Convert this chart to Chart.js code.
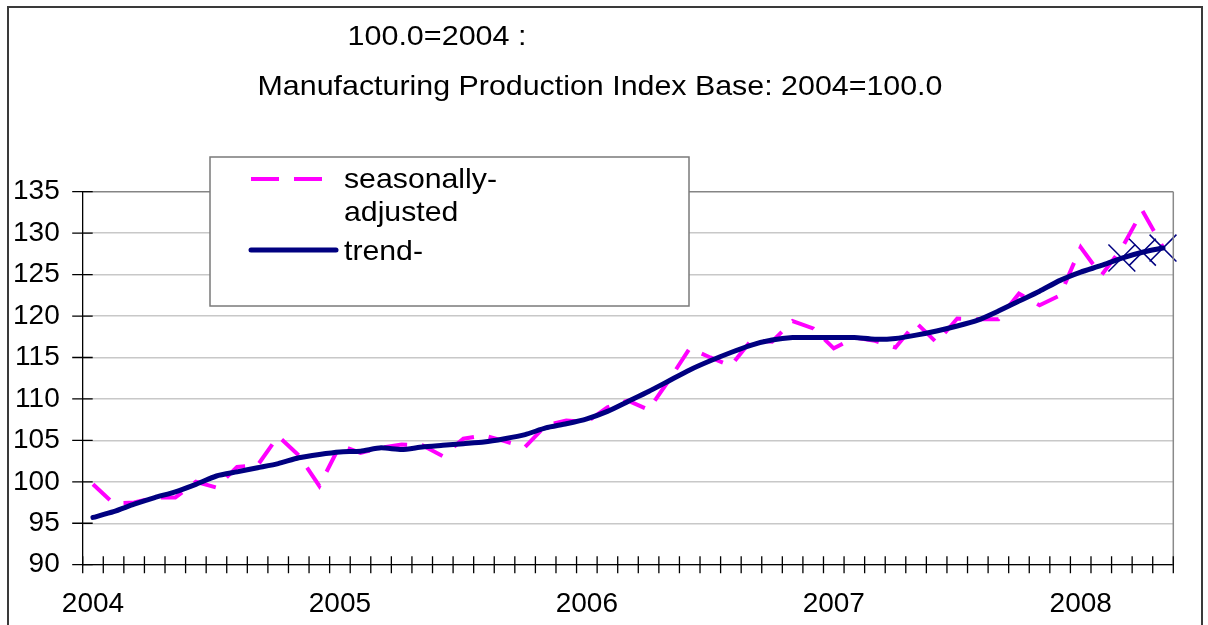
<!DOCTYPE html>
<html>
<head>
<meta charset="utf-8">
<script src="https://cdn.jsdelivr.net/npm/chart.js@4.4.1/dist/chart.umd.min.js"></script>
<style>
  html, body { margin: 0; padding: 0; background: #ffffff; }
  #wrap { width: 1208px; height: 625px; position: relative; }
</style>
</head>
<body>
<div id="wrap"><canvas id="c" width="1208" height="625"></canvas></div>
<script>
// ---------------- DATA ----------------
const CATEGORIES = [
  '2004-01','2004-02','2004-03','2004-04','2004-05','2004-06','2004-07','2004-08','2004-09','2004-10','2004-11','2004-12',
  '2005-01','2005-02','2005-03','2005-04','2005-05','2005-06','2005-07','2005-08','2005-09','2005-10','2005-11','2005-12',
  '2006-01','2006-02','2006-03','2006-04','2006-05','2006-06','2006-07','2006-08','2006-09','2006-10','2006-11','2006-12',
  '2007-01','2007-02','2007-03','2007-04','2007-05','2007-06','2007-07','2007-08','2007-09','2007-10','2007-11','2007-12',
  '2008-01','2008-02','2008-03','2008-04','2008-05'
];
const SEASONALLY_ADJUSTED = [
  99.7, 97.4, 97.5, 98.1, 98.1, 100.0, 99.3, 101.8, 102.0, 105.5, 103.2, 99.5,
  104.4, 103.5, 104.1, 104.5, 104.4, 103.1, 105.2, 105.6, 104.9, 104.2, 106.8, 107.4,
  107.2, 109.0, 109.8, 108.7, 112.3, 116.1, 115.0, 114.0, 117.1, 116.9, 119.4, 118.5,
  116.1, 117.4, 117.0, 116.2, 119.2, 116.8, 119.7, 119.6, 119.6, 122.7, 121.3, 122.5,
  128.3, 124.9, 128.2, 132.7, 128.3
];
const TREND = [
  95.7, 96.4, 97.3, 98.1, 98.8, 99.7, 100.7, 101.2, 101.7, 102.2, 102.9, 103.3,
  103.6, 103.7, 104.1, 103.9, 104.2, 104.4, 104.6, 104.8, 105.2, 105.7, 106.5, 107.0,
  107.6, 108.5, 109.7, 110.9, 112.2, 113.5, 114.6, 115.6, 116.5, 117.1, 117.4, 117.4,
  117.4, 117.4, 117.2, 117.3, 117.7, 118.2, 118.8, 119.5, 120.6, 121.8, 123.0, 124.3,
  125.3, 126.1, 127.0, 127.7, 128.2
];
const Y_MIN = 90;
const Y_MAX = 135;
const Y_STEP = 5;
const TITLE_LINES = ['100.0=2004 :', 'Manufacturing Production Index Base: 2004=100.0'];
const SERIES_LABELS = [['seasonally-', 'adjusted'], ['trend-']];

// ---------------- STYLE ----------------
const FONT = '"Liberation Sans", Arial, sans-serif';
const PINK = '#ff00ff';
const NAVY = '#000080';
const MARKED_FROM = 50; // trend points drawn with X markers

function stretchedText(ctx, text, x, y, px, scaleX, align) {
  ctx.save();
  ctx.font = px + 'px ' + FONT;
  ctx.textBaseline = 'alphabetic';
  ctx.textAlign = 'left';
  const w = ctx.measureText(text).width * scaleX;
  let left = x;
  if (align === 'center') left = x - w / 2;
  ctx.translate(left, y);
  ctx.scale(scaleX, 1);
  ctx.fillStyle = '#000';
  ctx.fillText(text, 0, 0);
  ctx.restore();
}

const decor = {
  id: 'decor',
  beforeDraw(chart) {
    const ctx = chart.ctx;
    ctx.save();
    ctx.fillStyle = '#ffffff';
    ctx.fillRect(0, 0, chart.width, chart.height);
    ctx.restore();
  },
  afterDraw(chart) {
    const ctx = chart.ctx;
    const a = chart.chartArea;
    const xs = chart.scales.x, ys = chart.scales.y;
    ctx.save();

    // right border of plot area
    ctx.strokeStyle = '#8a8a8a';
    ctx.lineWidth = 1.5;
    ctx.beginPath();
    ctx.moveTo(a.right, a.top);
    ctx.lineTo(a.right, a.bottom);
    ctx.stroke();

    // crossing tick marks
    ctx.strokeStyle = '#000';
    ctx.lineWidth = 1.3;
    ctx.beginPath();
    const n = CATEGORIES.length;
    const half = (xs.getPixelForValue(1) - xs.getPixelForValue(0)) / 2;
    for (let i = 0; i <= n; i++) {
      const px = i < n ? xs.getPixelForValue(i) - half : xs.getPixelForValue(n - 1) + half;
      ctx.moveTo(px, a.bottom - 8.5);
      ctx.lineTo(px, a.bottom + 8.5);
    }
    ys.ticks.forEach(t => {
      const py = ys.getPixelForValue(t.value);
      ctx.moveTo(a.left - 10.5, py);
      ctx.lineTo(a.left + 10, py);
    });
    ctx.stroke();

    // titles
    stretchedText(ctx, TITLE_LINES[0], 437, 45, 28, 1.09, 'center');
    stretchedText(ctx, TITLE_LINES[1], 600, 95, 28, 1.085, 'center');

    // legend box
    ctx.fillStyle = '#fff';
    ctx.fillRect(210, 157, 479, 149);
    ctx.strokeStyle = '#7a7a7a';
    ctx.lineWidth = 1.5;
    ctx.strokeRect(210, 157, 479, 149);

    const dsA = chart.data.datasets[0];
    const dsB = chart.data.datasets[1];
    ctx.strokeStyle = dsA.borderColor;
    ctx.lineWidth = 4;
    ctx.lineCap = 'butt';
    ctx.setLineDash([28, 15]);
    ctx.beginPath();
    ctx.moveTo(251, 179);
    ctx.lineTo(322, 179);
    ctx.stroke();
    ctx.setLineDash([]);
    ctx.strokeStyle = dsB.borderColor;
    ctx.lineWidth = 5;
    ctx.lineCap = 'round';
    ctx.beginPath();
    ctx.moveTo(251, 250);
    ctx.lineTo(336, 250);
    ctx.stroke();

    stretchedText(ctx, SERIES_LABELS[0][0], 344, 188, 28, 1.08, 'left');
    stretchedText(ctx, SERIES_LABELS[0][1], 344, 221, 28, 1.08, 'left');
    stretchedText(ctx, SERIES_LABELS[1][0], 344, 260, 28, 1.08, 'left');

    // outer frame
    ctx.strokeStyle = '#3a3a3a';
    ctx.lineWidth = 2;
    ctx.strokeRect(8, 7, 1194, 640);
    ctx.restore();
  }
};

new Chart(document.getElementById('c'), {
  type: 'line',
  data: {
    labels: CATEGORIES,
    datasets: [
      {
        label: SERIES_LABELS[0].join(''),
        data: SEASONALLY_ADJUSTED,
        borderColor: PINK,
        borderWidth: 4,
        borderDash: [23, 15],
        borderCapStyle: 'butt',
        borderJoinStyle: 'miter',
        pointRadius: 0,
        pointHoverRadius: 0,
        tension: 0,
        fill: false,
        order: 1
      },
      {
        label: SERIES_LABELS[1].join(''),
        data: TREND,
        borderColor: NAVY,
        borderWidth: 5,
        borderCapStyle: 'round',
        borderJoinStyle: 'round',
        pointStyle: 'crossRot',
        pointRadius: c => (c.dataIndex >= MARKED_FROM ? 19 : 0),
        pointHoverRadius: 0,
        pointBorderColor: NAVY,
        pointBackgroundColor: NAVY,
        pointBorderWidth: 1.5,
        tension: 0.2,
        fill: false,
        clip: false,
        order: 0
      }
    ]
  },
  options: {
    responsive: false,
    animation: false,
    events: [],
    layout: { padding: { top: 191.7, right: 34.7, bottom: 0, left: 0 } },
    plugins: {
      legend: { display: false },
      title: { display: false },
      tooltip: { enabled: false }
    },
    scales: {
      x: {
        type: 'category',
        offset: true,
        afterFit: s => { s.height = 60.3; },
        border: { display: true, color: '#000', width: 1.3 },
        grid: { display: true, drawOnChartArea: false, drawTicks: true, tickLength: 9, offset: true, tickColor: 'rgba(0,0,0,0)' },
        ticks: {
          autoSkip: false,
          maxRotation: 0,
          minRotation: 0,
          padding: 14,
          color: '#000',
          font: { family: FONT, size: 28 },
          callback: (v, i) => (CATEGORIES[i].endsWith('-01') ? CATEGORIES[i].slice(0, 4) : '')
        }
      },
      y: {
        min: Y_MIN,
        max: Y_MAX,
        afterFit: s => { s.width = 82.7; },
        border: { display: true, color: '#000', width: 1.3 },
        grid: {
          color: c => (c.tick && c.tick.value === Y_MAX ? '#858585' : '#c8c8c8'),
          lineWidth: 1.5,
          drawTicks: true,
          tickLength: 10,
          tickColor: 'rgba(0,0,0,0)'
        },
        ticks: {
          stepSize: Y_STEP,
          padding: 13,
          color: '#000',
          font: { family: FONT, size: 28 }
        }
      }
    }
  },
  plugins: [decor]
});
</script>
</body>
</html>
